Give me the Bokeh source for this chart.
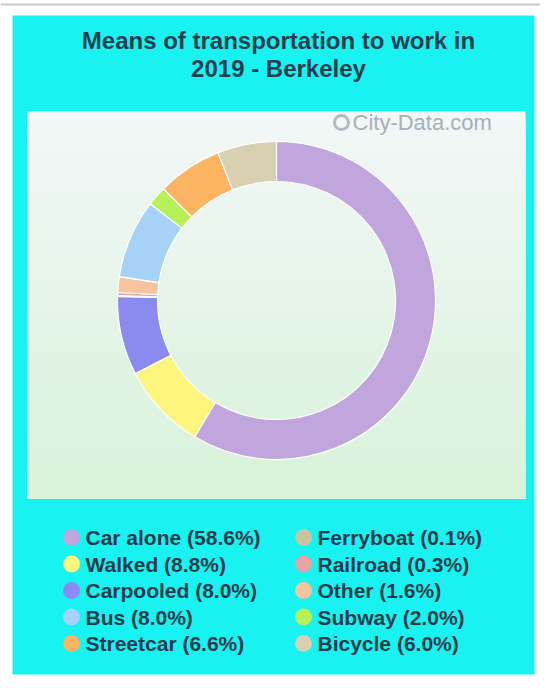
import math
from bokeh.plotting import figure
from bokeh.models import Range1d, ColumnDataSource
from bokeh.core.properties import value
from bokeh.embed import file_html
from bokeh.resources import INLINE

# ---- data ----
title_lines = ["Means of transportation to work in", "2019 - Berkeley"]
legend_categories = ["Car alone", "Walked", "Carpooled", "Bus", "Streetcar",
                     "Ferryboat", "Railroad", "Other", "Subway", "Bicycle"]
legend_values = [58.6, 8.8, 8.0, 8.0, 6.6, 0.1, 0.3, 1.6, 2.0, 6.0]
legend_colors = ["#c0a6dc", "#fdf57e", "#8a8af0", "#a6d2f8", "#fbb462",
                 "#c8c4a0", "#e8a4a4", "#f8c4a0", "#b8f058", "#d8d0b0"]
# order of slices around the ring, clockwise from 12 o'clock
ring_order = ["Car alone", "Walked", "Carpooled", "Ferryboat", "Railroad",
              "Other", "Bus", "Subway", "Streetcar", "Bicycle"]
watermark = "City-Data.com"

# ---- figure in page-pixel coordinates (y negated) ----
W, H = 540, 684
p = figure(width=W, height=H, x_range=Range1d(0, W), y_range=Range1d(-H, 0),
           output_backend="svg", toolbar_location=None, min_border=0)
p.axis.visible = False
p.grid.visible = False
p.outline_line_color = None
p.background_fill_color = "white"
p.border_fill_color = "white"

# top rule
p.quad(left=0, right=W, top=-3, bottom=-5, fill_color="#c8c8c8", line_color=None)

# cyan panel
p.quad(left=12, right=534, top=-15, bottom=-674, fill_color="#18f2f0", line_color=None)

# plot area with soft gradient
def lerp(c1, c2, t):
    return "#%02x%02x%02x" % tuple(int(round(a + (b - a) * t)) for a, b in zip(c1, c2))
top_c, bot_c = (242, 247, 247), (216, 243, 218)
n = 60
y0, y1 = 111, 498
tops, cols = [], []
for i in range(n):
    tops.append(-(y0 + (y1 - y0) * i / n))
    cols.append(lerp(top_c, bot_c, i / (n - 1)))
p.quad(left=27, right=525, top=tops, bottom=-y1, fill_color=cols, line_color=None)

# watermark
p.circle(x=[341], y=[-122], radius=7, fill_color=None, line_color="#b0bcc4", line_width=3)
p.text(x=[352], y=[-122], text=[watermark], text_font=value("Liberation Sans"),
       text_font_size="22px", text_color="#a6b0b8", text_baseline="middle", text_align="left")

# title
p.text(x=[278, 278], y=[-40, -68], text=title_lines, text_font=value("Liberation Sans"),
       text_font_style="bold", text_font_size="24px", text_color="#1e3f4f",
       text_baseline="middle", text_align="center")

# donut
val_map = dict(zip(legend_categories, legend_values))
col_map = dict(zip(legend_categories, legend_colors))
vals = [val_map[c] for c in ring_order]
total = sum(vals)
starts, ends, cum = [], [], 0.0
for v in vals:
    starts.append(math.pi / 2 - 2 * math.pi * cum / total)
    cum += v
    ends.append(math.pi / 2 - 2 * math.pi * cum / total)
src = ColumnDataSource(dict(start=starts, end=ends, color=[col_map[c] for c in ring_order]))
p.annular_wedge(x=276, y=-300, inner_radius=119, outer_radius=159,
                start_angle="start", end_angle="end", direction="clock",
                fill_color="color", line_color="white", line_width=1.2, source=src)

# legend
lx = [71] * 5 + [303] * 5
ly = [-(537 + 26.5 * (i % 5)) for i in range(10)]
labels = ["%s (%.1f%%)" % (c, v) for c, v in zip(legend_categories, legend_values)]
p.scatter(x=lx, y=ly, size=17, marker="circle", fill_color=legend_colors, line_color=None)
p.text(x=[x + 14 for x in lx], y=ly, text=labels, text_font=value("Liberation Sans"),
       text_font_style="bold", text_font_size="21px", text_color="#1c3c4c",
       text_baseline="middle", text_align="left")

open("out.html", "w").write(file_html(p, INLINE))
